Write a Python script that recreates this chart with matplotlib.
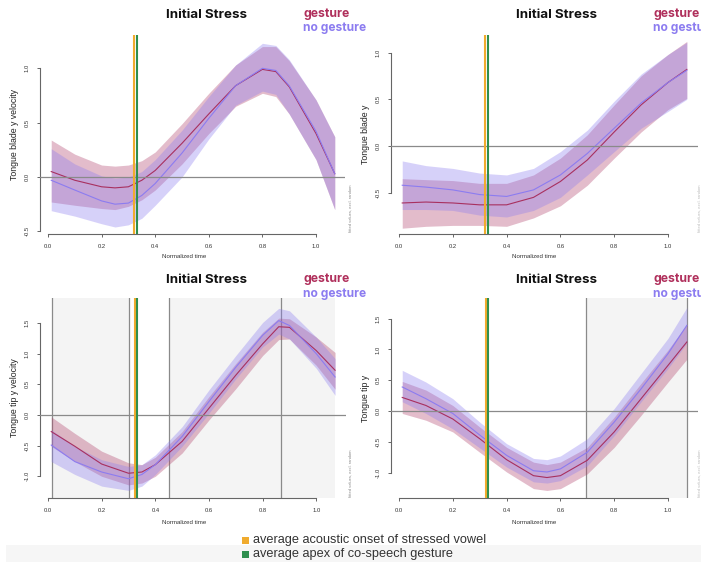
import matplotlib
matplotlib.use("Agg")
import matplotlib.pyplot as plt
from matplotlib.patches import Rectangle

# ---- data ----
x_tl = [0.012, 0.1, 0.2, 0.25, 0.3, 0.35, 0.4, 0.5, 0.6, 0.7, 0.8, 0.85, 0.9, 1.0, 1.07]
tl_g_mean = [0.05, -0.03, -0.09, -0.10, -0.09, -0.03, 0.06, 0.31, 0.58, 0.84, 0.99, 0.97, 0.83, 0.40, 0.03]
tl_g_upper = [0.34, 0.21, 0.11, 0.10, 0.11, 0.15, 0.23, 0.49, 0.77, 1.03, 1.20, 1.20, 1.07, 0.71, 0.37]
tl_g_lower = [-0.23, -0.26, -0.29, -0.30, -0.27, -0.21, -0.12, 0.12, 0.40, 0.65, 0.77, 0.74, 0.58, 0.16, -0.30]
tl_n_mean = [-0.03, -0.12, -0.22, -0.25, -0.24, -0.17, -0.06, 0.22, 0.54, 0.84, 1.00, 0.98, 0.84, 0.42, 0.03]
tl_n_upper = [0.26, 0.12, 0.01, -0.01, 0.00, 0.05, 0.16, 0.43, 0.74, 1.03, 1.23, 1.21, 1.08, 0.71, 0.37]
tl_n_lower = [-0.31, -0.36, -0.43, -0.46, -0.44, -0.38, -0.26, 0.00, 0.35, 0.66, 0.79, 0.76, 0.58, 0.16, -0.30]

x_tr = [0.012, 0.1, 0.2, 0.3, 0.4, 0.5, 0.6, 0.7, 0.8, 0.9, 1.0, 1.07]
tr_g_mean = [-0.61, -0.60, -0.61, -0.63, -0.63, -0.55, -0.38, -0.15, 0.15, 0.44, 0.68, 0.82]
tr_g_upper = [-0.35, -0.36, -0.37, -0.40, -0.40, -0.31, -0.13, 0.12, 0.44, 0.75, 0.98, 1.12]
tr_g_lower = [-0.88, -0.86, -0.85, -0.85, -0.86, -0.77, -0.64, -0.42, -0.13, 0.15, 0.39, 0.51]
tr_n_mean = [-0.42, -0.44, -0.47, -0.52, -0.54, -0.47, -0.31, -0.08, 0.19, 0.46, 0.68, 0.81]
tr_n_upper = [-0.16, -0.21, -0.24, -0.29, -0.31, -0.24, -0.06, 0.17, 0.48, 0.77, 0.98, 1.11]
tr_n_lower = [-0.68, -0.68, -0.69, -0.74, -0.76, -0.69, -0.55, -0.31, -0.06, 0.19, 0.37, 0.50]

x_bl = [0.012, 0.1, 0.2, 0.3, 0.35, 0.4, 0.5, 0.6, 0.7, 0.8, 0.86, 0.9, 1.0, 1.07]
bl_g_mean = [-0.27, -0.51, -0.80, -0.95, -0.93, -0.81, -0.43, 0.11, 0.65, 1.16, 1.44, 1.43, 1.05, 0.73]
bl_g_upper = [-0.03, -0.30, -0.59, -0.78, -0.81, -0.69, -0.27, 0.30, 0.84, 1.35, 1.58, 1.57, 1.27, 1.02]
bl_g_lower = [-0.51, -0.76, -1.00, -1.14, -1.11, -1.00, -0.62, -0.08, 0.43, 0.97, 1.23, 1.24, 0.81, 0.42]
bl_n_mean = [-0.49, -0.76, -0.93, -1.04, -0.97, -0.81, -0.35, 0.22, 0.78, 1.30, 1.54, 1.46, 1.00, 0.62]
bl_n_upper = [-0.24, -0.51, -0.73, -0.84, -0.81, -0.65, -0.19, 0.41, 0.97, 1.51, 1.74, 1.70, 1.27, 0.92]
bl_n_lower = [-0.76, -0.97, -1.16, -1.23, -1.16, -0.97, -0.51, 0.03, 0.59, 1.11, 1.32, 1.24, 0.76, 0.32]

x_br = [0.012, 0.1, 0.2, 0.3, 0.4, 0.5, 0.55, 0.6, 0.7, 0.8, 0.9, 1.0, 1.07]
br_g_mean = [0.22, 0.09, -0.13, -0.45, -0.79, -1.05, -1.08, -1.05, -0.80, -0.34, 0.20, 0.74, 1.12]
br_g_upper = [0.48, 0.34, 0.09, -0.26, -0.59, -0.83, -0.87, -0.83, -0.59, -0.10, 0.45, 0.99, 1.41]
br_g_lower = [-0.04, -0.15, -0.34, -0.67, -0.99, -1.26, -1.29, -1.26, -1.02, -0.59, -0.07, 0.47, 0.84]
br_n_mean = [0.39, 0.20, -0.04, -0.39, -0.72, -0.97, -0.99, -0.94, -0.67, -0.18, 0.36, 0.93, 1.39]
br_n_upper = [0.66, 0.47, 0.20, -0.18, -0.53, -0.77, -0.79, -0.73, -0.45, 0.04, 0.61, 1.18, 1.68]
br_n_lower = [0.15, -0.04, -0.29, -0.60, -0.91, -1.15, -1.17, -1.13, -0.89, -0.40, 0.15, 0.69, 1.10]

ylabels = ["Tongue blade y velocity", "Tongue blade y", "Tongue tip y velocity", "Tongue tip y"]
onset = [0.321, 0.320, 0.323, 0.322]
apex = [0.332, 0.331, 0.333, 0.332]
yticks = [[-0.5, 0.0, 0.5, 1.0], [-0.5, 0.0, 0.5, 1.0],
          [-1.0, -0.5, 0.0, 0.5, 1.0, 1.5], [-1.0, -0.5, 0.0, 0.5, 1.0, 1.5]]
xticks = [0.0, 0.2, 0.4, 0.6, 0.8, 1.0]
bound_lines = [[], [], [0.015, 0.302, 0.451, 0.870], [0.696, 1.071]]
shaded = [[], [], [(0.015, 0.302), (0.451, 1.07)], [(0.696, 1.071)]]

legend_labels = ["average acoustic onset of stressed vowel", "average apex of co-speech gesture"]

# ---- colours ----
c_g = "#a8305f"
c_n = "#8c7cf0"
fill_g = "#b0406a"
fill_n = "#8c7cf0"
c_onset = "#f0ab2e"
c_apex = "#2f8f4f"

W, H = 701, 562
fig = plt.figure(figsize=(W / 100, H / 100), dpi=100)


def ft(x, y, s, **kw):
    return fig.text(x / W, 1 - y / H, s, **kw)


# panel pixel mapping: (px of x=0, px per x unit, px of y=0, px per y unit, xlim, ylim)
panels = [
    (48, 268, 177, 108.7, (-0.03, 1.11), (-0.52, 1.31)),
    (399, 269, 146, 93.4, (-0.03, 1.11), (-0.94, 1.19)),
    (48, 268.3, 415, 61.3, (-0.03, 1.11), (-1.35, 1.91)),
    (399, 269, 411, 61.6, (-0.03, 1.11), (-1.41, 1.83)),
]
series = [
    (x_tl, tl_g_mean, tl_g_upper, tl_g_lower, tl_n_mean, tl_n_upper, tl_n_lower),
    (x_tr, tr_g_mean, tr_g_upper, tr_g_lower, tr_n_mean, tr_n_upper, tr_n_lower),
    (x_bl, bl_g_mean, bl_g_upper, bl_g_lower, bl_n_mean, bl_n_upper, bl_n_lower),
    (x_br, br_g_mean, br_g_upper, br_g_lower, br_n_mean, br_n_upper, br_n_lower),
]

for i, (x0, sx, y0, sy, xl, yl) in enumerate(panels):
    left = x0 + sx * xl[0]
    right = x0 + sx * xl[1]
    top = y0 - sy * yl[1]
    bottom = y0 - sy * yl[0]
    ax = fig.add_axes([left / W, 1 - bottom / H, (right - left) / W, (bottom - top) / H])
    ax.set_xlim(xl)
    ax.set_ylim(yl)
    ax.patch.set_alpha(0)

    for a, b in shaded[i]:
        ax.axvspan(a, b, color="#f4f4f4", zorder=0, lw=0)
    for v in bound_lines[i]:
        ax.axvline(v, color="#8a8a8a", lw=0.9, zorder=1)

    xs, gm, gu, gl, nm, nu, nl = series[i]
    ax.fill_between(xs, gl, gu, color=fill_g, alpha=0.35, lw=0, zorder=2)
    ax.fill_between(xs, nl, nu, color=fill_n, alpha=0.35, lw=0, zorder=2)
    ax.plot(xs, gm, color=c_g, lw=0.8, zorder=3)
    ax.plot(xs, nm, color=c_n, lw=0.8, zorder=3)

    ax.axhline(0, color="#8a8a8a", lw=0.9, zorder=4)
    ax.axvline(onset[i], color=c_onset, lw=1.5, zorder=5)
    ax.axvline(apex[i], color=c_apex, lw=1.5, zorder=6)

    for s in ["top", "right"]:
        ax.spines[s].set_visible(False)
    for s in ["left", "bottom"]:
        ax.spines[s].set_color("#666666")
        ax.spines[s].set_linewidth(0.8)
    ax.spines["left"].set_bounds(yticks[i][0], yticks[i][-1])
    ax.spines["bottom"].set_bounds(0.0, 1.0)
    ax.set_xticks(xticks)
    ax.set_xticklabels(["%.1f" % t for t in xticks])
    ax.set_yticks(yticks[i])
    ax.set_yticklabels(["%.1f" % t for t in yticks[i]], rotation=90, va="center")
    ax.tick_params(length=2.2, width=0.7, color="#666666", labelsize=4.2,
                   labelcolor="#333333", pad=5)
    for lab in ax.get_xticklabels() + ax.get_yticklabels():
        lab.set_family("Liberation Sans")

    # texts around the panel
    ox = 0 if i % 2 == 0 else 350
    oy = 0 if i < 2 else 265
    ft(ox + 206, oy + 15, "Initial Stress", ha="center", va="center", fontsize=9.6,
       fontweight="bold", family="Inter", color="#111111")
    ft(ox + 303, oy + 14, "gesture", ha="left", va="center", fontsize=8.8,
       fontweight="bold", family="Inter", color="#b0305c")
    ft(ox + 303, oy + 28.5, "no gesture", ha="left", va="center", fontsize=8.6,
       fontweight="bold", family="Inter", color="#8c7cf0")
    ft(ox + 15, (top + bottom) / 2, ylabels[i], ha="center", va="center", rotation=90,
       fontsize=6.3, family="Liberation Sans", color="#222222")
    ft(ox + 184, oy + 257, "Normalized time", ha="center", va="center",
       fontsize=4.4, family="Liberation Sans", color="#333333")
    if i % 2 == 0:
        ft(351, oy + 208, "fitted values, excl. random", ha="center", va="center",
           rotation=90, fontsize=3, family="Liberation Sans", color="#888888")
    else:
        ft(700, oy + 208, "fitted values, excl. random", ha="center", va="center",
           rotation=90, fontsize=3, family="Liberation Sans", color="#bbbbbb")

# bottom legend
fig.add_artist(Rectangle((6 / W, 0), 1 - 6 / W, 17 / H, transform=fig.transFigure,
                         facecolor="#f6f6f6", edgecolor="none", zorder=0))
for j, (lab, col) in enumerate(zip(legend_labels, [c_onset, c_apex])):
    yc = 540.5 + j * 13.5
    fig.add_artist(Rectangle((242 / W, 1 - (yc + 3.5) / H), 7 / W, 7 / H,
                             transform=fig.transFigure, facecolor=col,
                             edgecolor="none", zorder=2))
    ft(253, yc, lab, ha="left", va="center", fontsize=9.2,
       family="Liberation Sans", color="#333333")

fig.savefig("out.png", dpi=100)
